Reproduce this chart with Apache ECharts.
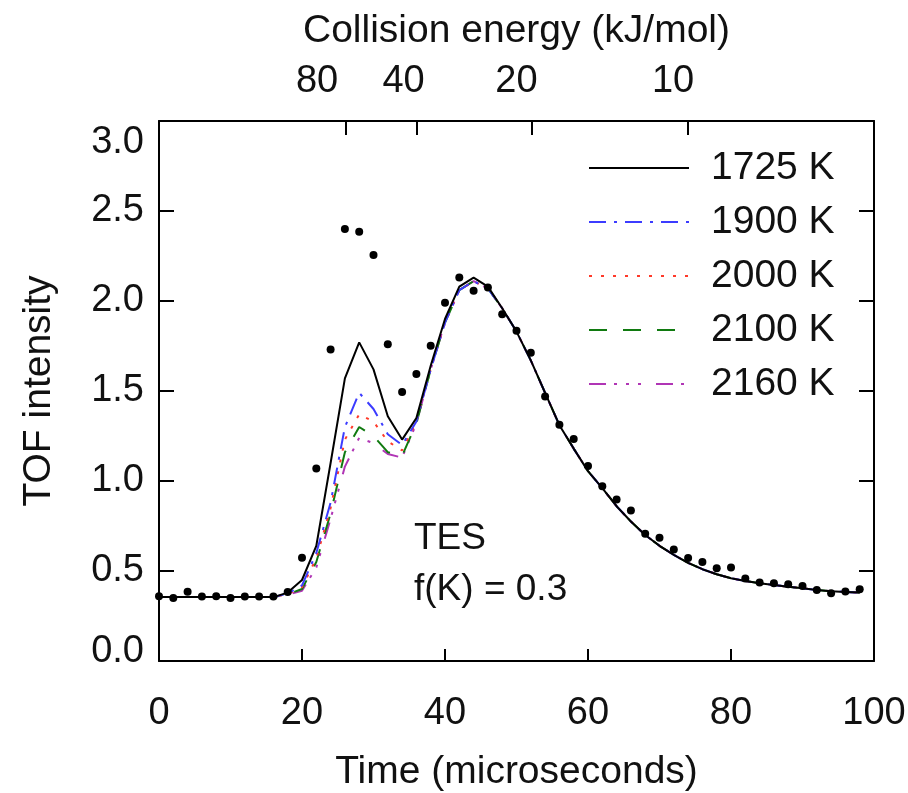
<!DOCTYPE html>
<html><head><meta charset="utf-8">
<script src="https://cdn.jsdelivr.net/npm/echarts@6/dist/echarts.min.js"></script>
<style>html,body{margin:0;padding:0;background:#fff}#c{width:908px;height:793px}</style>
</head><body><div id="c"></div>
<script>
const times = [0,2,4,6,8,10,12,14,16,18,20,22,24,26,28,30,32,34,36,38,40,42,44,46,48,50,52,54,56,58,60,62,64,66,68,70,72,74,76,78,80,82,84,86,88,90,92,94,96,98];
const dots = [0.36,0.35,0.385,0.358,0.36,0.35,0.358,0.358,0.358,0.384,0.574,1.07,1.73,2.40,2.385,2.255,1.76,1.495,1.595,1.752,1.99,2.13,2.057,2.075,1.927,1.835,1.713,1.469,1.312,1.234,1.083,0.971,0.897,0.836,0.707,0.685,0.620,0.572,0.550,0.515,0.519,0.458,0.436,0.432,0.426,0.417,0.395,0.377,0.386,0.399];
const k1725 = [0.355,0.355,0.355,0.355,0.355,0.355,0.355,0.355,0.355,0.38,0.45,0.64,1.10,1.57,1.77,1.62,1.36,1.23,1.35,1.64,1.90,2.08,2.13,2.08,1.96,1.83,1.67,1.49,1.31,1.18,1.055,0.96,0.86,0.775,0.70,0.64,0.59,0.545,0.51,0.482,0.46,0.445,0.432,0.422,0.413,0.404,0.395,0.388,0.384,0.38];
const k1900 = [0.355,0.355,0.355,0.355,0.355,0.355,0.355,0.355,0.355,0.375,0.42,0.60,0.88,1.30,1.49,1.40,1.26,1.20,1.33,1.62,1.88,2.06,2.11,2.07,1.96,1.83,1.67,1.49,1.31,1.18,1.055,0.96,0.86,0.775,0.70,0.64,0.59,0.545,0.51,0.482,0.46,0.445,0.432,0.422,0.413,0.404,0.395,0.388,0.384,0.38];
const k2000 = [0.355,0.355,0.355,0.355,0.355,0.355,0.355,0.355,0.355,0.372,0.41,0.57,0.85,1.23,1.37,1.33,1.22,1.17,1.33,1.62,1.88,2.06,2.11,2.07,1.96,1.83,1.67,1.49,1.31,1.18,1.055,0.96,0.86,0.775,0.70,0.64,0.59,0.545,0.51,0.482,0.46,0.445,0.432,0.422,0.413,0.404,0.395,0.388,0.384,0.38];
const k2100 = [0.355,0.355,0.355,0.355,0.355,0.355,0.355,0.355,0.355,0.37,0.40,0.55,0.82,1.16,1.30,1.25,1.16,1.14,1.32,1.62,1.88,2.06,2.11,2.07,1.96,1.83,1.67,1.49,1.31,1.18,1.055,0.96,0.86,0.775,0.70,0.64,0.59,0.545,0.51,0.482,0.46,0.445,0.432,0.422,0.413,0.404,0.395,0.388,0.384,0.38];
const k2160 = [0.355,0.355,0.355,0.355,0.355,0.355,0.355,0.355,0.355,0.368,0.39,0.52,0.79,1.08,1.24,1.21,1.15,1.13,1.32,1.62,1.88,2.06,2.11,2.07,1.96,1.83,1.67,1.49,1.31,1.18,1.055,0.96,0.86,0.775,0.70,0.64,0.59,0.545,0.51,0.482,0.46,0.445,0.432,0.422,0.413,0.404,0.395,0.388,0.384,0.38];
const seriesNames = ['1725 K','1900 K','2000 K','2100 K','2160 K'];
const energyLabels = ['80','40','20','10'];
const energyTickTime = [26.1,36.0,52.1,74.0];
const energyLabelTime = [22.1,34.2,50.0,71.9];

const FONT = 'Liberation Sans';
const pair = arr => times.map((t,i)=>[t,arr[i]]);
const styles = [
  {color:'#000000', type:'solid'},
  {color:'#3c3cff', type:[17,8,3,8]},
  {color:'#ff3a2a', type:[3,9]},
  {color:'#107a10', type:[18,16]},
  {color:'#b035b5', type:[17,8,3,9,3,9,3,15]}
];
const curves = [k1725,k1900,k2000,k2100,k2160];
const lineSeries = curves.map((arr,i)=>({
  name: seriesNames[i], type:'line', data: pair(arr), symbol:'none', showSymbol:false,
  lineStyle:{color:styles[i].color, width:2, type:styles[i].type},
  itemStyle:{color:styles[i].color}, z: 3 + (4-i), animation:false
}));
const chart = echarts.init(document.getElementById('c'), null, {renderer:'canvas'});
const axisLine = {show:true, onZero:false, lineStyle:{color:'#000', width:2}};
const tickStyle = {color:'#000', width:2};
const noLine = {show:false, onZero:false};
const noLabel = {show:false};
const noSplit = {show:false};
const gridBox = {left:159, right:34, top:121, bottom:132, outerBoundsMode:'none', containLabel:false};
// Tick-only axes on a twin grid, offset into the plot so outward ticks end on the frame (inward ticks)
const tickAxis = (position, len, range, extra) => Object.assign({type:'value', gridIndex:1, position,
  min:range[0], max:range[1], offset:-len,
  axisLine:noLine, axisLabel:noLabel, splitLine:noSplit,
  axisTick:Object.assign({show:true, length:len, lineStyle:tickStyle}, extra && extra.tick || {})},
  extra && extra.axis || {});
chart.setOption({
  animation:false,
  textStyle:{fontFamily:FONT},
  grid:[Object.assign({}, gridBox), Object.assign({}, gridBox)],
  legend:{
    orient:'vertical', left:588, top:148, padding:0, itemGap:14,
    itemWidth:100, itemHeight:10, data:seriesNames,
    itemStyle:{opacity:0},
    textStyle:{fontFamily:FONT, fontSize:39, color:'#111', lineHeight:40, padding:[0,0,0,17]}
  },
  title:[
    {text:'TES', left:414, top:520, padding:0, textStyle:{fontFamily:FONT, fontSize:37, fontWeight:'normal', color:'#111'}},
    {text:'f(K) = 0.3', left:414, top:571, padding:0, textStyle:{fontFamily:FONT, fontSize:37, fontWeight:'normal', color:'#111'}}
  ],
  xAxis:[
    {type:'value', gridIndex:0, position:'bottom', min:0, max:100, interval:20,
     name:'Time (microseconds)', nameLocation:'middle', nameGap:92,
     nameTextStyle:{fontFamily:FONT, fontSize:39, color:'#111'},
     axisLine:axisLine, axisTick:{show:false},
     axisLabel:{fontFamily:FONT, fontSize:38, color:'#111', margin:34},
     splitLine:noSplit},
    {type:'value', gridIndex:0, position:'top', min:0, max:100,
     name:'Collision energy (kJ/mol)', nameLocation:'middle', nameGap:70,
     nameTextStyle:{fontFamily:FONT, fontSize:39, color:'#111'},
     axisLine:axisLine, axisTick:{show:false},
     axisLabel:{fontFamily:FONT, fontSize:38, color:'#111', margin:20, customValues:energyLabelTime,
       formatter:v=>{let best=0;energyLabelTime.forEach((t,i)=>{if(Math.abs(t-v)<Math.abs(energyLabelTime[best]-v))best=i;});return energyLabels[best];}},
     splitLine:noSplit},
    tickAxis('bottom', 12, [0,100], {axis:{interval:20}}),
    tickAxis('top', 14, [0,100], {tick:{customValues:energyTickTime}})
  ],
  yAxis:[
    {type:'value', gridIndex:0, position:'left', min:0, max:3, interval:0.5,
     name:'TOF intensity', nameLocation:'middle', nameGap:100,
     nameTextStyle:{fontFamily:FONT, fontSize:39, color:'#111'},
     axisLine:axisLine, axisTick:{show:false},
     axisLabel:{fontFamily:FONT, fontSize:38, color:'#111', margin:15,
       formatter:v=>{const s=v.toFixed(1); if(v>=3) return '{top|'+s+'}'; if(v<=0) return '{bot|'+s+'}'; return s;},
       rich:{top:{fontFamily:FONT, fontSize:38, color:'#111', padding:[44,0,0,0]},
             bot:{fontFamily:FONT, fontSize:38, color:'#111', padding:[0,0,18,0]}}},
     splitLine:noSplit},
    {type:'value', gridIndex:0, position:'right', min:0, max:3, interval:0.5,
     axisLine:axisLine, axisTick:{show:false}, axisLabel:noLabel, splitLine:noSplit},
    tickAxis('left', 15, [0,3], {axis:{interval:0.5}}),
    tickAxis('right', 15, [0,3], {axis:{interval:0.5}})
  ],
  series: lineSeries.concat([{
    name:'data', type:'scatter', data: pair(dots), symbol:'circle', symbolSize:8,
    itemStyle:{color:'#000', opacity:1}, z:10, animation:false
  }])
});
</script></body></html>
